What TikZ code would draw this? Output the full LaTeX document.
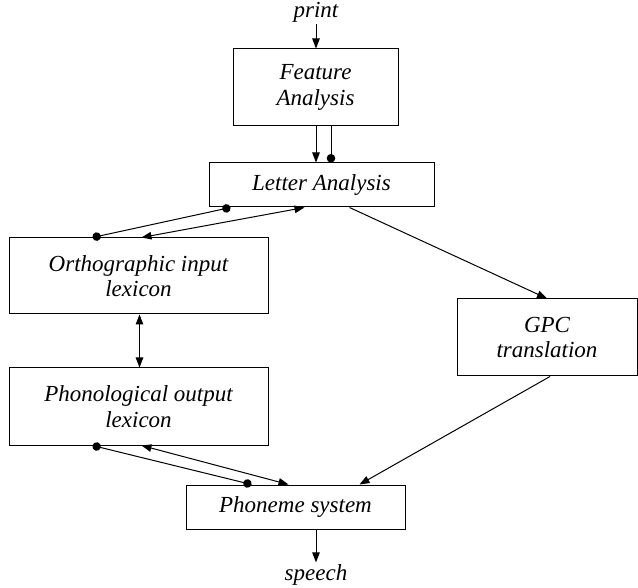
\documentclass[tikz,border=0pt]{standalone}
\usepackage{fontspec}
\setmainfont{Liberation Serif}
\usetikzlibrary{arrows.meta,positioning}

\begin{document}
\begin{tikzpicture}[
  x=1pt, y=-1pt,
  font=\itshape\fontsize{23}{25.5}\selectfont,
  box/.style={draw, line width=1pt, inner sep=0pt, align=center},
  arrow/.style={-{Triangle[length=10pt,width=7.5pt]}, line width=1pt},
  twoway/.style={{Triangle[length=10pt,width=7.5pt]}-{Triangle[length=10pt,width=7.5pt]}, line width=1pt},
  dotted end/.style={-{Circle[length=8.5pt]}, line width=1pt},
  twodot/.style={{Circle[length=8.5pt]}-{Circle[length=8.5pt]}, line width=1pt}
]
  \useasboundingbox (0,0) rectangle (638,588);

  \node[box, minimum width=165pt, minimum height=77pt] (feature) at (315.5,87.5) {Feature\\Analysis};
  \node[box, minimum width=225pt, minimum height=44pt] (letter) at (321.5,185) {Letter Analysis};
  \node[box, minimum width=259pt, minimum height=76pt] (orth) at (138.5,276) {Orthographic input\\lexicon};
  \node[box, minimum width=259pt, minimum height=77pt] (phon) at (138.5,406.5) {Phonological output\\lexicon};
  \node[box, minimum width=180pt, minimum height=77pt] (gpc) at (547,337.5) {GPC\\translation};
  \node[box, minimum width=219pt, minimum height=44pt] (phoneme) at (295.5,507) {Phoneme system};

  \node[inner sep=2pt] (print) at (316,12) {print};
  \node[inner sep=2pt] (speech) at (316,575) {speech};

  % print in, speech out
  \draw[arrow] (print.south) -- (feature.north -| print.south);
  \draw[arrow] (speech.north |- phoneme.south) -- (speech.north);

  % feature -> letter
  \draw[arrow] ([xshift=0.5pt]feature.south) -- ([xshift=0.5pt]feature.south |- letter.north);
  \draw[dotted end] ([xshift=15.5pt]feature.south) -- ([xshift=15.5pt]feature.south |- letter.north);

  % letter <-> orthographic
  \draw[twodot] ([xshift=22pt]letter.south west) -- ([xshift=84pt]orth.north west);
  \draw[twoway] ([xshift=96pt]letter.south west) -- ([xshift=133pt]orth.north west);

  % orthographic <-> phonological
  \draw[twoway] ([xshift=131pt]orth.south west) -- ([xshift=131pt]phon.north west);

  % phonological <-> phoneme
  \draw[twodot] ([xshift=84pt]phon.south west) -- ([xshift=66pt]phoneme.north west);
  \draw[twoway] ([xshift=133pt]phon.south west) -- ([xshift=103pt]phoneme.north west);

  % GPC route
  \draw[arrow] ([xshift=141pt]letter.south west) -- (gpc.north);
  \draw[arrow] ([xshift=3pt]gpc.south) -- ([xshift=174pt]phoneme.north west);
\end{tikzpicture}
\end{document}
